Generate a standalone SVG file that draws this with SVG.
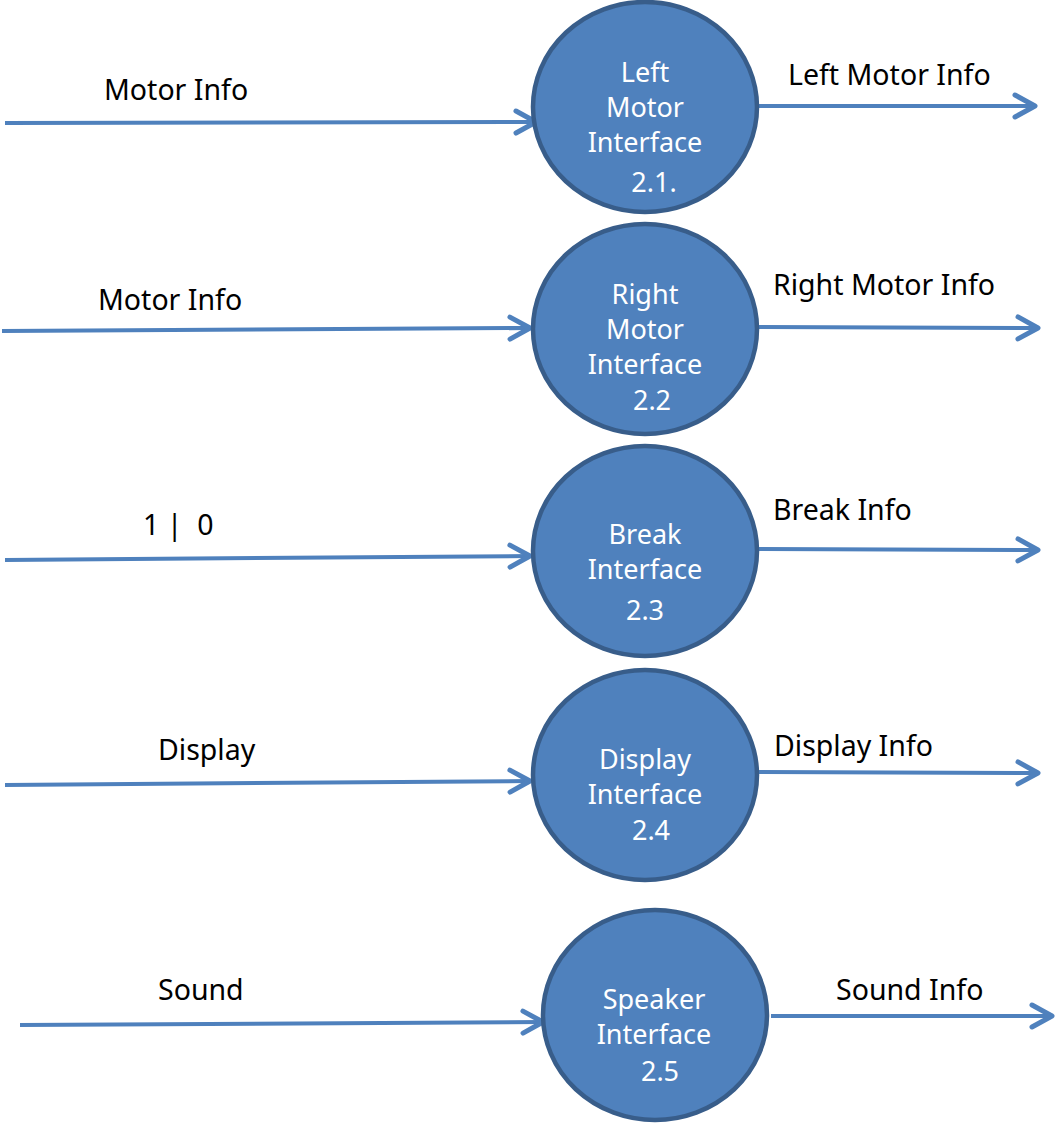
<svg xmlns="http://www.w3.org/2000/svg" width="1056" height="1123" viewBox="0 0 1056 1123">
<defs>
<marker id="arr" markerUnits="userSpaceOnUse" markerWidth="30" markerHeight="30" viewBox="-24 -15 30 30" refX="0" refY="0" orient="auto">
<path d="M-20,-11 L0,0 L-20,11" fill="none" stroke="#4F81BD" stroke-width="5" stroke-linecap="round" stroke-linejoin="round"/>
</marker>
</defs>
<style>
.bub{fill:#4F81BD;stroke:#385D8A;stroke-width:4.5}
.in{fill:#fff;font-family:"Noto Sans","Open Sans",sans-serif;font-size:27px;text-anchor:middle}
.lbl{fill:#000;font-family:"Noto Sans","Open Sans",sans-serif;font-size:28.5px}
.flow{stroke:#4F81BD;stroke-width:4;fill:none;marker-end:url(#arr)}
</style>
<g id="connectors">
<line class="flow" x1="5" y1="123" x2="536" y2="122"/>
<line class="flow" x1="759" y1="106" x2="1035" y2="106"/>
<line class="flow" x1="2" y1="331" x2="530" y2="328"/>
<line class="flow" x1="758" y1="327" x2="1038" y2="328"/>
<line class="flow" x1="5" y1="560" x2="530" y2="556"/>
<line class="flow" x1="758" y1="549" x2="1038" y2="550"/>
<line class="flow" x1="5" y1="785" x2="530" y2="781"/>
<line class="flow" x1="758" y1="772" x2="1038" y2="773"/>
<line class="flow" x1="20" y1="1025" x2="543" y2="1022"/>
<line class="flow" x1="771" y1="1016" x2="1052" y2="1016"/>
</g>
<g id="labels">
<text class="lbl" x="104" y="100">Motor Info</text>
<text class="lbl" x="788" y="85">Left Motor Info</text>
<text class="lbl" x="98" y="310">Motor Info</text>
<text class="lbl" x="773" y="295">Right Motor Info</text>
<text class="lbl" x="143" y="535" xml:space="preserve">1 |  0</text>
<text class="lbl" x="773" y="520">Break Info</text>
<text class="lbl" x="158" y="760">Display</text>
<text class="lbl" x="774" y="756">Display Info</text>
<text class="lbl" x="158" y="1000">Sound</text>
<text class="lbl" x="836" y="1000">Sound Info</text>
</g>
<g id="node-2.1">
<ellipse class="bub" cx="645" cy="107" rx="112" ry="105"/>
<text class="in" x="645" y="82">Left</text>
<text class="in" x="645" y="117">Motor</text>
<text class="in" x="645" y="152">Interface</text>
<text class="in" x="654" y="192">2.1.</text>
</g>
<g id="node-2.2">
<ellipse class="bub" cx="645" cy="329" rx="112" ry="105"/>
<text class="in" x="645" y="304">Right</text>
<text class="in" x="645" y="339">Motor</text>
<text class="in" x="645" y="374">Interface</text>
<text class="in" x="652" y="410">2.2</text>
</g>
<g id="node-2.3">
<ellipse class="bub" cx="645" cy="551" rx="112" ry="105"/>
<text class="in" x="645" y="544">Break</text>
<text class="in" x="645" y="579">Interface</text>
<text class="in" x="645" y="620">2.3</text>
</g>
<g id="node-2.4">
<ellipse class="bub" cx="645" cy="775" rx="112" ry="105"/>
<text class="in" x="645" y="769">Display</text>
<text class="in" x="645" y="804">Interface</text>
<text class="in" x="651" y="840">2.4</text>
</g>
<g id="node-2.5">
<ellipse class="bub" cx="655" cy="1015" rx="112" ry="105"/>
<text class="in" x="654" y="1009">Speaker</text>
<text class="in" x="654" y="1044">Interface</text>
<text class="in" x="660" y="1081">2.5</text>
</g>
</svg>
